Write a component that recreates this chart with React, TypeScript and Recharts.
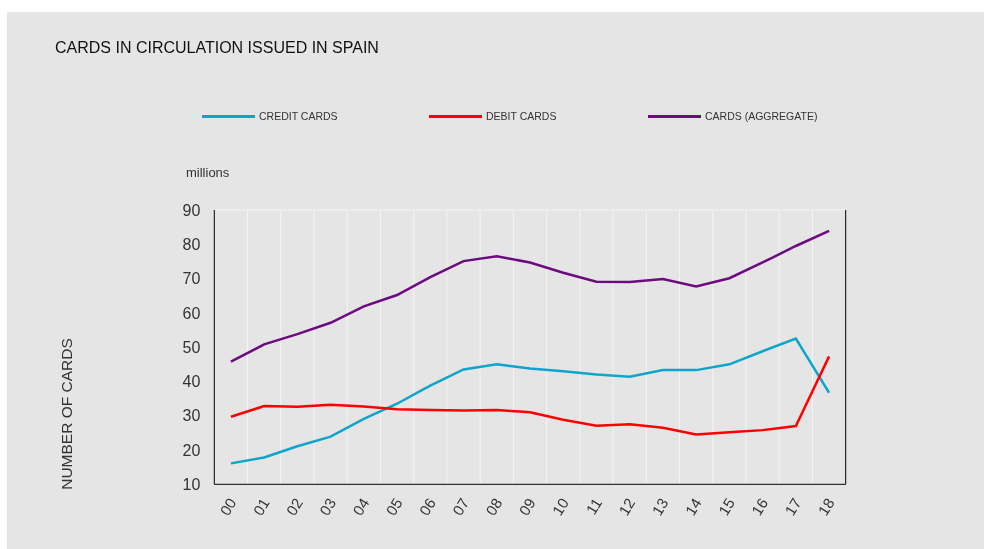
import React from 'react';
import { LineChart, Line, XAxis, YAxis, CartesianGrid } from 'recharts';

const years = ['00', '01', '02', '03', '04', '05', '06', '07', '08', '09', '10', '11', '12', '13', '14', '15', '16', '17', '18'];
const creditCards = [16.1, 17.8, 21.1, 23.9, 29.1, 33.5, 38.8, 43.5, 45.0, 43.8, 43.0, 42.0, 41.4, 43.3, 43.3, 45.0, 48.8, 52.5, 36.7];
const debitCards = [29.7, 32.8, 32.6, 33.2, 32.7, 31.9, 31.7, 31.5, 31.7, 31.0, 28.8, 27.1, 27.5, 26.5, 24.5, 25.2, 25.8, 27.0, 47.3];
const aggregateCards = [45.8, 50.8, 53.8, 57.1, 61.9, 65.2, 70.4, 75.1, 76.5, 74.7, 71.7, 69.1, 69.0, 69.9, 67.7, 70.1, 74.7, 79.5, 83.9];
const yTicks = [10, 20, 30, 40, 50, 60, 70, 80, 90];

const series = [
  { key: 'credit', name: 'CREDIT CARDS', color: '#0ea5cc', legendX: 202 },
  { key: 'debit', name: 'DEBIT CARDS', color: '#ff0000', legendX: 429 },
  { key: 'aggregate', name: 'CARDS (AGGREGATE)', color: '#6e0a80', legendX: 648 },
];

const data = years.map((year, i) => ({
  idx: i,
  year,
  credit: creditCards[i],
  debit: debitCards[i],
  aggregate: aggregateCards[i],
}));

const FONT = '"Liberation Sans", Arial, Helvetica, sans-serif';
const TEXT = '#333333';

function YearTick({ x, y, payload }: any) {
  return (
    <g transform={`translate(${x + 1},${y + 7})`}>
      <text x={0} y={0} dy={6} textAnchor="end" transform="rotate(-58)" fill={TEXT} fontSize={15} fontFamily={FONT}>
        {years[payload.value]}
      </text>
    </g>
  );
}

// vertical grid sits between the categories
const bandLines = ({ offset }: any) => {
  const step = offset.width / years.length;
  return years.slice(1).map((_, i) => offset.left + step * (i + 1));
};

export default function App() {
  return (
    <div style={{ position: 'relative', width: 968, height: 541, fontFamily: FONT }}>
      <div style={{ position: 'fixed', left: 7, top: 12, right: 0, bottom: 0, background: '#e5e5e5' }} />
      <div style={{ position: 'absolute', left: 47, top: 31, fontSize: 16, color: '#111', whiteSpace: 'nowrap' }}>
        CARDS IN CIRCULATION ISSUED IN SPAIN
      </div>
      {series.map((s) => (
        <div key={s.key} style={{ position: 'absolute', left: s.legendX - 8, top: 102, display: 'flex', alignItems: 'center', whiteSpace: 'nowrap' }}>
          <div style={{ width: 53, height: 3, background: s.color, marginRight: 4 }} />
          <span style={{ fontSize: 10.5, color: TEXT }}>{s.name}</span>
        </div>
      ))}
      <div style={{ position: 'absolute', left: 178, top: 157, fontSize: 13, color: TEXT }}>millions</div>
      <div
        style={{
          position: 'absolute',
          left: 58.5,
          top: 405.5,
          fontSize: 15.5,
          color: TEXT,
          whiteSpace: 'nowrap',
          transform: 'translate(-50%, -50%) rotate(-90deg)',
        }}
      >
        NUMBER OF CARDS
      </div>
      <div style={{ position: 'absolute', left: 0, top: 0 }}>
        <LineChart width={976} height={541} data={data} margin={{ top: 202, right: 78.3, bottom: 24.7, left: 146.3 }}>
          <CartesianGrid stroke="#f4f4f4" strokeWidth={1} verticalCoordinatesGenerator={bandLines} />
          <XAxis
            dataKey="idx"
            type="number"
            domain={[-0.5, 18.5]}
            ticks={years.map((_, i) => i)}
            interval={0}
            height={40}
            axisLine={{ stroke: '#000' }}
            tickLine={false}
            tick={<YearTick />}
          />
          <YAxis
            yAxisId="left"
            domain={[10, 90]}
            ticks={yTicks}
            width={60}
            axisLine={{ stroke: '#000' }}
            tickLine={false}
            tickMargin={8}
            tick={{ fill: TEXT, fontSize: 16, fontFamily: FONT }}
          />
          <YAxis
            yAxisId="right"
            orientation="right"
            domain={[10, 90]}
            ticks={yTicks}
            width={60}
            axisLine={{ stroke: '#000' }}
            tickLine={false}
            tickMargin={8}
            tick={{ fill: TEXT, fontSize: 16, fontFamily: FONT }}
          />
          {series.map((s) => (
            <Line
              key={s.key}
              yAxisId="left"
              type="linear"
              dataKey={s.key}
              name={s.name}
              stroke={s.color}
              strokeWidth={2.5}
              dot={false}
              activeDot={false}
              isAnimationActive={false}
            />
          ))}
        </LineChart>
      </div>
    </div>
  );
}
